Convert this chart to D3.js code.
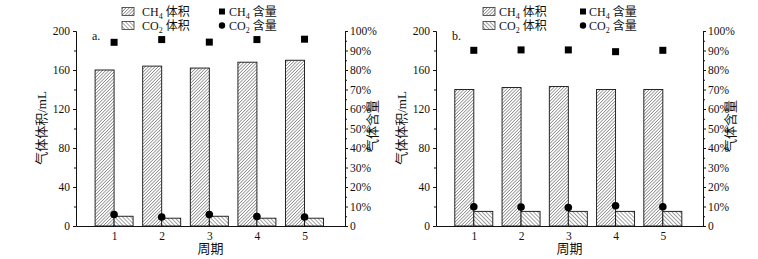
<!DOCTYPE html>
<html>
<head>
<meta charset="utf-8">
<script src="https://cdn.jsdelivr.net/npm/d3@7"></script>
<style>
  body { margin: 0; background: #fff; }
  text { font-family: "Liberation Serif", "Noto Sans CJK SC", serif; fill: #111; }
</style>
</head>
<body>
<div id="chart"></div>
<script>
// Data
const cycles = [1, 2, 3, 4, 5];
const ch4VolA = [160, 164, 162, 168, 170];
const co2VolA = [10, 8, 10, 8, 8];
const ch4PctA = [94.2, 95.6, 94.3, 95.6, 95.8];
const co2PctA = [5.9, 4.6, 5.9, 4.9, 4.6];
const ch4VolB = [140, 142, 143, 140, 140];
const co2VolB = [15, 15, 15, 15, 15];
const ch4PctB = [90.1, 90.3, 90.3, 89.4, 90.1];
const co2PctB = [9.9, 9.7, 9.5, 10.4, 9.9];
const volTicks = [0, 40, 80, 120, 160, 200];
const pctTicks = [0, 10, 20, 30, 40, 50, 60, 70, 80, 90, 100];

const W = 758, H = 259;
const svg = d3.select("#chart").append("svg")
    .attr("width", W).attr("height", H);

// hatch patterns
const defs = svg.append("defs");
function hatch(id, size, angle) {
    const p = defs.append("pattern")
        .attr("id", id)
        .attr("patternUnits", "userSpaceOnUse")
        .attr("width", size).attr("height", size)
        .attr("patternTransform", `rotate(${angle})`);
    p.append("rect").attr("width", size).attr("height", size).attr("fill", "#fff");
    p.append("line")
        .attr("x1", 0).attr("y1", 0).attr("x2", 0).attr("y2", size)
        .attr("stroke", "#333").attr("stroke-width", 0.9);
}
hatch("hCH4", 2.3, 45);
hatch("hCO2", 2.8, -45);

function drawPanel(left, right, tag, ch4Vol, co2Vol, ch4Pct, co2Pct) {
    const g = svg.append("g");
    const x = d3.scaleLinear().domain([0.2, 5.85]).range([left, right]);
    const yL = d3.scaleLinear().domain([0, 200]).range([226, 31]);
    const yR = d3.scaleLinear().domain([0, 100]).range([226, 31]);
    const bw = 19;

    // bars
    g.selectAll(".ch4").data(cycles).join("rect")
        .attr("x", d => x(d) - bw)
        .attr("y", (d, i) => yL(ch4Vol[i]))
        .attr("width", bw)
        .attr("height", (d, i) => yL(0) - yL(ch4Vol[i]))
        .attr("fill", "url(#hCH4)")
        .attr("stroke", "#111").attr("stroke-width", 0.9);
    g.selectAll(".co2").data(cycles).join("rect")
        .attr("x", d => x(d))
        .attr("y", (d, i) => yL(co2Vol[i]))
        .attr("width", bw)
        .attr("height", (d, i) => yL(0) - yL(co2Vol[i]))
        .attr("fill", "url(#hCO2)")
        .attr("stroke", "#111").attr("stroke-width", 0.9);

    // left axis
    const axL = d3.axisLeft(yL).tickValues(volTicks).tickSize(3).tickPadding(3);
    g.append("g").attr("transform", `translate(${left},0)`).call(axL);
    const minL = d3.axisLeft(yL).tickValues(d3.range(20, 200, 40)).tickSize(2).tickFormat("");
    g.append("g").attr("transform", `translate(${left},0)`).call(minL)
        .select(".domain").remove();

    // right axis
    const axR = d3.axisRight(yR).tickValues(pctTicks).tickSize(3).tickPadding(2)
        .tickFormat(d => d === 0 ? "0" : d + "%");
    g.append("g").attr("transform", `translate(${right},0)`).call(axR);
    const minR = d3.axisRight(yR).tickValues(d3.range(5, 100, 10)).tickSize(2).tickFormat("");
    g.append("g").attr("transform", `translate(${right},0)`).call(minR)
        .select(".domain").remove();

    // bottom axis
    const axB = d3.axisBottom(x).tickValues(cycles).tickSize(0).tickPadding(6)
        .tickFormat(d3.format("d"));
    g.append("g").attr("transform", `translate(0,${yL(0)})`).call(axB);

    g.selectAll(".domain").attr("stroke", "#111").attr("stroke-width", 1);
    g.selectAll(".tick line").attr("stroke", "#111");
    g.selectAll(".tick text")
        .style("font-family", "'Liberation Serif', serif")
        .style("font-size", "11.5px").attr("fill", "#111");

    // markers
    g.selectAll(".sq").data(cycles).join("rect")
        .attr("x", d => x(d) - 3.5)
        .attr("y", (d, i) => yR(ch4Pct[i]) - 3.5)
        .attr("width", 7).attr("height", 7)
        .attr("fill", "#000");
    g.selectAll(".ci").data(cycles).join("circle")
        .attr("cx", d => x(d))
        .attr("cy", (d, i) => yR(co2Pct[i]))
        .attr("r", 3.8)
        .attr("fill", "#000");

    // labels
    g.append("text").attr("x", left + 16).attr("y", 40)
        .style("font-size", "12px").text(tag);
    g.append("text")
        .attr("transform", `translate(${left - 30},${128}) rotate(-90)`)
        .attr("text-anchor", "middle")
        .style("font-size", "13px").text("气体体积/mL");
    g.append("text")
        .attr("transform", `translate(${right + 32},${126}) rotate(-90)`)
        .attr("text-anchor", "middle")
        .style("font-size", "13px").text("气体含量");
    g.append("text")
        .attr("x", (left + right) / 2).attr("y", 253)
        .attr("text-anchor", "middle")
        .style("font-size", "13px").text("周期");
}

function legend(bx, tx, mx, mtx) {
    const g = svg.append("g");
    const rows = [
        { y: 11.5, fill: "url(#hCH4)", gas: "CH", sub: "4", shape: "sq" },
        { y: 25.5, fill: "url(#hCO2)", gas: "CO", sub: "2", shape: "ci" }
    ];
    rows.forEach(r => {
        g.append("rect").attr("x", bx).attr("y", r.y - 4)
            .attr("width", 12).attr("height", 8)
            .attr("fill", r.fill).attr("stroke", "#333").attr("stroke-width", 0.8);
        const t = g.append("text").attr("x", tx).attr("y", r.y + 4)
            .style("font-size", "12px");
        t.append("tspan").text(r.gas);
        t.append("tspan").attr("dy", 3).style("font-size", "8px").text(r.sub);
        t.append("tspan").attr("dy", -3).text(" 体积");
        if (r.shape === "sq") {
            g.append("rect").attr("x", mx - 3).attr("y", r.y - 3)
                .attr("width", 6).attr("height", 6).attr("fill", "#000");
        } else {
            g.append("circle").attr("cx", mx).attr("cy", r.y).attr("r", 3.2).attr("fill", "#000");
        }
        const t2 = g.append("text").attr("x", mtx).attr("y", r.y + 4)
            .style("font-size", "12px");
        t2.append("tspan").text(r.gas);
        t2.append("tspan").attr("dy", 3).style("font-size", "8px").text(r.sub);
        t2.append("tspan").attr("dy", -3).text(" 含量");
    });
}

drawPanel(76, 345, "a.", ch4VolA, co2VolA, ch4PctA, co2PctA);
drawPanel(436, 703, "b.", ch4VolB, co2VolB, ch4PctB, co2PctB);
legend(122, 142, 222, 229);
legend(483, 499, 583, 589);
</script>
</body>
</html>
